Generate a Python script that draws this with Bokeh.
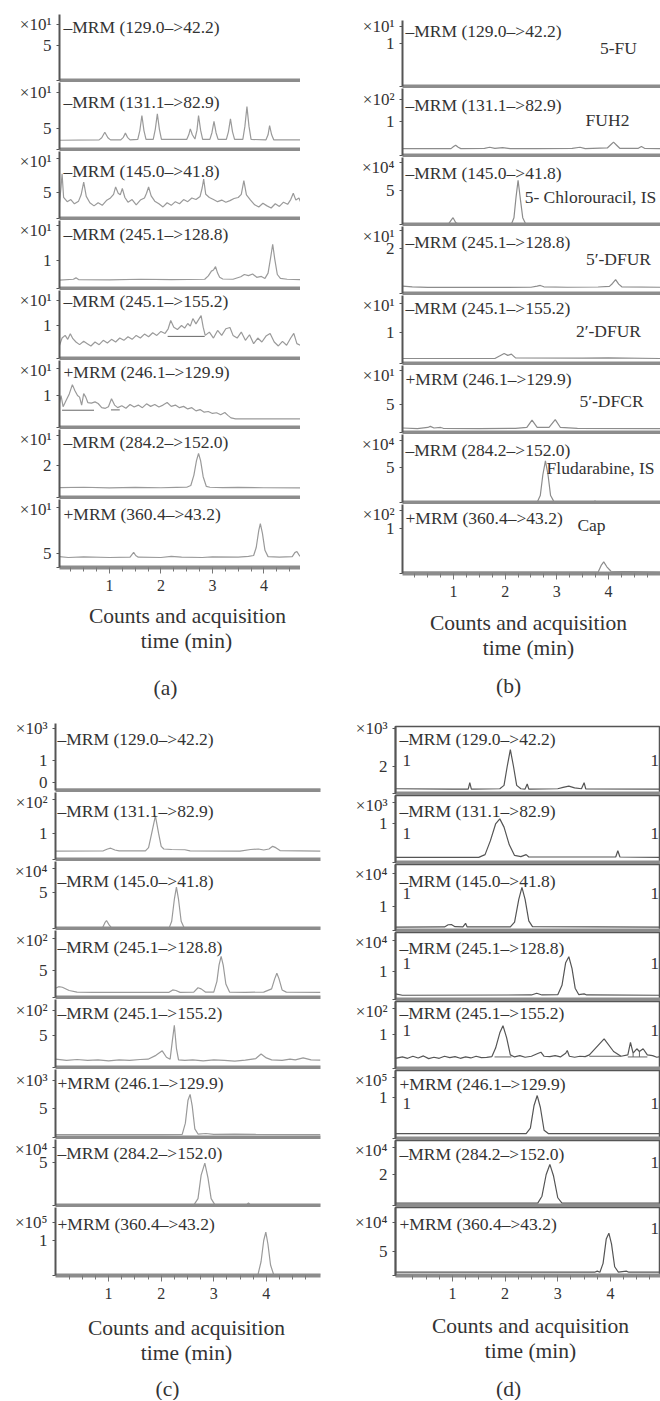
import math
from bokeh.plotting import figure
from bokeh.models import Range1d, FixedTicker, Label, AllLabels
from bokeh.layouts import column, row
from bokeh.embed import file_html
from bokeh.resources import INLINE
from bokeh.core.properties import value

NAN = float("nan")
FONT = "Liberation Serif"

# ---------------- texts / axis values ----------------
MRM_LABELS = ["–MRM (129.0–>42.2)", "–MRM (131.1–>82.9)", "–MRM (145.0–>41.8)",
              "–MRM (245.1–>128.8)", "–MRM (245.1–>155.2)", "+MRM (246.1–>129.9)",
              "–MRM (284.2–>152.0)", "+MRM (360.4–>43.2)"]
COMPOUNDS_B = ["5-FU", "FUH2", "5- Chlorouracil, IS", "5′-DFUR", "2′-DFUR",
               "5′-DFCR", "Fludarabine, IS", "Cap"]
CAPTION = ["Counts and acquisition", "time (min)"]
X_TICKS = [1, 2, 3, 4]
X_MINOR = [0.25, 0.5, 0.75, 1.25, 1.5, 1.75, 2.25, 2.5, 2.75, 3.25, 3.5, 3.75, 4.25, 4.5, 4.75]
SUP = {1: "¹", 2: "²", 3: "³", 4: "⁴", 5: "⁵"}

Y_TICK_A = [5, 5, 5, 1, 1, 1, 2, 5]
EXP_A = [1, 1, 1, 1, 1, 1, 1, 1]
Y_TICK_B = [1, 1, 5, 2, 1, 5, 5, 1]
EXP_B = [1, 2, 4, 1, 1, 1, 4, 2]
Y_TICK_C = [1, 1, 5, 5, 5, 5, 5, 1]
EXP_C = [3, 2, 4, 2, 2, 3, 4, 5]
Y_TICK_D = [2, 1, 1, 1, 1, 1, 2, 5]
EXP_D = [3, 3, 4, 4, 2, 5, 4, 4]

# ---------------- chromatogram traces (time min, counts in axis units) ----------------
A1 = [(0.03, 0.0), (4.71, 0.0)]
A2 = [(0.03, 2.2), (0.80, 2.3), (0.85, 2.8), (0.91, 4.1), (0.97, 2.8), (1.02, 2.3), (1.22, 2.3), (1.27, 2.9),
      (1.31, 3.9), (1.35, 2.9), (1.40, 2.3), (1.55, 2.4), (1.59, 4.5), (1.63, 8.1), (1.67, 4.5), (1.71, 2.4),
      (1.85, 2.4), (1.89, 4.8), (1.93, 8.5), (1.97, 4.8), (2.01, 2.4), (2.50, 2.4), (2.54, 3.5), (2.57, 4.9),
      (2.61, 3.5), (2.66, 2.5), (2.70, 4.6), (2.73, 8.1), (2.77, 4.6), (2.81, 2.4), (2.95, 2.4), (2.99, 4.0),
      (3.03, 6.7), (3.07, 4.0), (3.11, 2.4), (3.27, 2.4), (3.31, 4.2), (3.35, 7.3), (3.39, 4.2), (3.43, 2.4),
      (3.59, 2.4), (3.63, 5.5), (3.67, 10.2), (3.71, 5.5), (3.75, 2.4), (4.04, 2.3), (4.08, 3.5), (4.11, 5.7),
      (4.15, 3.5), (4.19, 2.3), (4.71, 2.3)]
A3 = [(0.03, 3.0), (0.06, 6.0), (0.08, 8.5), (0.11, 4.0), (0.18, 3.2), (0.25, 3.6), (0.32, 2.8), (0.40, 3.3),
      (0.45, 4.5), (0.50, 6.9), (0.55, 4.2), (0.62, 3.0), (0.70, 2.4), (0.78, 3.0), (0.86, 2.5), (0.94, 3.4),
      (1.02, 3.9), (1.08, 4.6), (1.12, 6.0), (1.17, 4.8), (1.21, 4.5), (1.25, 5.7), (1.30, 4.0), (1.36, 3.1),
      (1.44, 3.6), (1.52, 2.6), (1.60, 3.5), (1.68, 3.9), (1.72, 4.8), (1.76, 6.0), (1.81, 4.3), (1.88, 3.3),
      (1.96, 2.8), (2.04, 2.2), (2.12, 3.0), (2.20, 2.5), (2.28, 3.2), (2.36, 2.8), (2.44, 3.6), (2.52, 3.2),
      (2.60, 3.9), (2.68, 3.6), (2.76, 4.2), (2.80, 5.8), (2.83, 7.5), (2.87, 4.6), (2.94, 4.0), (3.02, 3.6),
      (3.10, 3.2), (3.18, 3.5), (3.26, 3.1), (3.34, 3.4), (3.42, 3.8), (3.50, 4.0), (3.56, 4.6), (3.61, 7.2),
      (3.66, 4.5), (3.74, 3.5), (3.82, 2.6), (3.90, 2.2), (3.98, 2.9), (4.06, 2.4), (4.14, 2.0), (4.22, 2.8),
      (4.30, 2.3), (4.38, 3.1), (4.46, 2.7), (4.52, 3.6), (4.57, 4.8), (4.62, 3.5), (4.68, 3.9), (4.71, 3.2)]
A4 = [(0.03, 0.30), (0.30, 0.33), (0.35, 0.38), (0.40, 0.32), (1.00, 0.31), (1.60, 0.33), (2.20, 0.32),
      (2.85, 0.33), (2.92, 0.45), (2.98, 0.62), (3.02, 0.66), (3.06, 0.78), (3.10, 0.55), (3.14, 0.40),
      (3.20, 0.34), (3.40, 0.33), (3.55, 0.42), (3.62, 0.50), (3.70, 0.46), (3.78, 0.52), (3.86, 0.40),
      (3.95, 0.43), (4.02, 0.36), (4.08, 0.55), (4.13, 1.10), (4.17, 1.58), (4.21, 1.05), (4.26, 0.50),
      (4.32, 0.36), (4.45, 0.33), (4.71, 0.32)]
A5 = [(0.03, 0.40), (0.08, 0.62), (0.14, 0.70), (0.19, 0.58), (0.24, 0.75), (0.29, 0.60), (0.35, 0.50),
      (0.42, 0.42), (0.50, 0.52), (0.57, 0.45), (0.64, 0.38), (0.72, 0.50), (0.80, 0.42), (0.88, 0.55),
      (0.96, 0.47), (1.04, 0.58), (1.12, 0.50), (1.20, 0.62), (1.28, 0.55), (1.36, 0.66), (1.44, 0.58),
      (1.52, 0.70), (1.60, 0.62), (1.68, 0.74), (1.76, 0.66), (1.84, 0.78), (1.92, 0.70), (2.00, 0.82),
      (2.08, 0.76), (2.14, 0.90), (2.19, 1.15), (2.25, 0.95), (2.32, 0.88), (2.40, 1.00), (2.46, 0.92),
      (2.52, 1.06), (2.57, 0.98), (2.62, 1.21), (2.68, 1.05), (2.74, 1.20), (2.78, 1.30), (2.82, 0.95),
      (2.86, 0.70), (2.94, 0.80), (3.02, 0.62), (3.10, 0.85), (3.18, 0.70), (3.26, 0.90), (3.34, 0.94),
      (3.40, 0.70), (3.48, 0.62), (3.56, 0.80), (3.64, 0.55), (3.72, 0.72), (3.80, 0.45), (3.88, 0.62),
      (3.96, 0.50), (4.04, 0.68), (4.12, 0.76), (4.20, 0.50), (4.28, 0.38), (4.36, 0.52), (4.44, 0.40),
      (4.52, 0.62), (4.58, 0.76), (4.64, 0.45), (4.71, 0.40)]
A5_INT = [(2.13, 0.67), (2.85, 0.67)]
A6 = [(0.03, 0.75), (0.06, 1.00), (0.10, 0.65), (0.16, 0.85), (0.22, 1.05), (0.28, 1.34), (0.33, 1.15),
      (0.38, 1.00), (0.42, 0.95), (0.46, 0.70), (0.50, 1.06), (0.54, 0.95), (0.58, 0.78), (0.65, 0.76),
      (0.72, 0.80), (0.78, 0.75), (0.85, 0.62), (0.92, 0.60), (0.98, 0.65), (1.04, 0.90), (1.10, 0.70),
      (1.16, 0.62), (1.24, 0.68), (1.32, 0.60), (1.40, 0.72), (1.48, 0.64), (1.56, 0.70), (1.64, 0.62),
      (1.72, 0.74), (1.80, 0.66), (1.88, 0.72), (1.96, 0.64), (2.04, 0.70), (2.12, 0.78), (2.20, 0.66),
      (2.28, 0.70), (2.36, 0.62), (2.44, 0.66), (2.52, 0.58), (2.60, 0.62), (2.68, 0.52), (2.76, 0.56),
      (2.84, 0.48), (2.92, 0.50), (3.00, 0.44), (3.08, 0.46), (3.16, 0.40), (3.24, 0.47), (3.30, 0.38),
      (3.36, 0.30), (3.45, 0.27), (4.71, 0.27)]
A6_INT = [(0.08, 0.54), (0.70, 0.54), (NAN, NAN), (1.03, 0.55), (1.20, 0.55)]
A7 = [(0.03, 0.62), (0.50, 0.64), (1.00, 0.60), (1.50, 0.63), (2.00, 0.61), (2.30, 0.63), (2.50, 0.64),
      (2.58, 0.75), (2.64, 1.40), (2.69, 2.30), (2.73, 2.75), (2.77, 2.30), (2.82, 1.30), (2.88, 0.70),
      (2.95, 0.64), (3.20, 0.62), (3.50, 0.63), (4.00, 0.61), (4.71, 0.60)]
A8 = [(0.03, 3.8), (0.20, 3.5), (0.50, 3.7), (1.00, 3.5), (1.40, 3.6), (1.44, 4.6), (1.47, 5.3), (1.51, 4.2),
      (1.56, 3.6), (2.00, 3.5), (2.20, 3.9), (2.40, 3.6), (2.80, 3.5), (3.00, 3.7), (3.50, 3.6), (3.70, 3.9),
      (3.80, 4.2), (3.85, 7.0), (3.90, 13.0), (3.93, 15.3), (3.97, 12.0), (4.02, 6.0), (4.08, 3.8),
      (4.30, 3.6), (4.55, 3.8), (4.60, 5.2), (4.64, 5.6), (4.68, 4.4), (4.71, 3.8)]

B1 = [(0.01, 0.0), (5.01, 0.0)]
B2 = [(0.01, 0.20), (0.95, 0.20), (1.00, 0.26), (1.04, 0.30), (1.09, 0.24), (1.14, 0.20), (1.60, 0.21),
      (1.70, 0.24), (1.80, 0.21), (1.95, 0.23), (2.10, 0.20), (2.60, 0.20), (3.30, 0.21), (3.45, 0.24),
      (3.55, 0.20), (3.98, 0.22), (4.05, 0.32), (4.10, 0.39), (4.16, 0.30), (4.22, 0.21), (4.58, 0.21),
      (4.64, 0.26), (4.70, 0.21), (5.01, 0.20)]
B3 = [(0.01, 0.05), (0.90, 0.05), (0.95, 0.6), (0.99, 1.0), (1.04, 0.3), (1.10, 0.05), (2.12, 0.05),
      (2.17, 1.0), (2.21, 4.0), (2.25, 6.5), (2.29, 4.0), (2.34, 1.0), (2.40, 0.05), (5.01, 0.05)]
B4 = [(0.01, 0.33), (0.20, 0.30), (0.50, 0.27), (1.50, 0.27), (2.50, 0.28), (2.62, 0.33), (2.68, 0.36),
      (2.75, 0.30), (3.20, 0.28), (3.80, 0.29), (4.02, 0.32), (4.08, 0.45), (4.14, 0.62), (4.20, 0.42),
      (4.26, 0.30), (5.01, 0.28)]
B5 = [(0.01, 0.16), (1.80, 0.16), (1.90, 0.25), (1.98, 0.32), (2.05, 0.26), (2.12, 0.30), (2.20, 0.18),
      (3.50, 0.17), (4.00, 0.18), (5.01, 0.16)]
B6 = [(0.01, 0.8), (0.30, 0.7), (0.50, 0.9), (0.55, 1.1), (0.62, 0.8), (0.75, 0.9), (0.80, 0.75), (1.50, 0.7),
      (2.20, 0.75), (2.42, 0.9), (2.52, 2.2), (2.62, 0.9), (2.85, 0.9), (2.97, 2.3), (3.07, 0.9), (3.40, 0.75),
      (5.01, 0.7)]
B7 = [(0.01, 0.05), (2.62, 0.05), (2.68, 1.0), (2.73, 4.0), (2.78, 6.0), (2.83, 4.0), (2.88, 1.0),
      (2.95, 0.05), (3.70, 0.05), (3.74, 0.2), (3.78, 0.05), (5.01, 0.05)]
B8 = [(0.01, 0.03), (3.80, 0.03), (3.86, 0.18), (3.91, 0.26), (3.97, 0.15), (4.05, 0.05), (5.01, 0.03)]

C1 = [(-0.01, -0.3), (5.03, -0.3)]
C2 = [(-0.01, 0.32), (0.90, 0.33), (0.98, 0.40), (1.04, 0.43), (1.12, 0.36), (1.20, 0.33), (1.70, 0.33),
      (1.76, 0.45), (1.82, 1.00), (1.89, 1.66), (1.95, 1.00), (2.00, 0.50), (2.05, 0.40), (2.20, 0.38),
      (2.45, 0.37), (2.55, 0.33), (3.50, 0.32), (3.70, 0.38), (3.85, 0.40), (3.95, 0.36), (4.05, 0.40),
      (4.12, 0.50), (4.18, 0.45), (4.26, 0.34), (5.03, 0.32)]
C3 = [(-0.01, 0.05), (0.88, 0.05), (0.93, 0.8), (0.96, 1.1), (1.01, 0.5), (1.06, 0.05), (2.15, 0.05),
      (2.20, 1.0), (2.25, 4.0), (2.29, 5.7), (2.33, 4.0), (2.38, 1.0), (2.44, 0.05), (5.03, 0.05)]
C4 = [(-0.01, 1.7), (0.05, 2.0), (0.12, 1.9), (0.25, 1.3), (0.40, 1.0), (0.70, 0.94), (1.50, 0.94),
      (2.15, 0.95), (2.22, 1.4), (2.28, 1.3), (2.36, 0.95), (2.62, 1.0), (2.70, 1.8), (2.76, 1.6), (2.84, 1.0),
      (3.00, 1.0), (3.06, 3.0), (3.10, 6.0), (3.14, 7.6), (3.18, 6.0), (3.23, 2.5), (3.30, 1.0), (3.60, 0.95),
      (3.95, 1.0), (4.10, 1.6), (4.16, 3.5), (4.20, 4.5), (4.24, 3.5), (4.30, 1.4), (4.38, 1.0), (5.03, 0.95)]
C5 = [(-0.01, 1.3), (0.20, 1.1), (0.40, 1.25), (0.60, 1.1), (0.80, 1.2), (1.00, 1.05), (1.20, 1.2),
      (1.40, 1.1), (1.60, 1.25), (1.75, 1.3), (1.90, 1.9), (2.02, 2.6), (2.10, 1.6), (2.17, 1.3), (2.21, 4.0),
      (2.25, 6.6), (2.29, 3.0), (2.33, 1.2), (2.45, 1.1), (2.60, 1.2), (2.80, 1.05), (3.00, 1.2), (3.20, 1.1),
      (3.40, 1.0), (3.60, 1.15), (3.80, 1.4), (3.90, 2.1), (4.00, 1.5), (4.10, 1.2), (4.30, 1.1), (4.45, 1.3),
      (4.55, 1.2), (4.70, 1.5), (4.85, 1.2), (5.03, 1.15)]
C6 = [(-0.01, 0.5), (2.00, 0.5), (2.40, 0.55), (2.46, 2.5), (2.51, 6.5), (2.55, 7.5), (2.59, 5.5),
      (2.64, 1.5), (2.70, 0.6), (2.85, 0.7), (3.00, 0.55), (3.40, 0.6), (3.80, 0.55), (5.03, 0.5)]
C7 = [(-0.01, 0.05), (2.62, 0.05), (2.70, 0.8), (2.76, 3.5), (2.83, 4.9), (2.89, 3.2), (2.95, 0.8),
      (3.02, 0.1), (3.62, 0.05), (3.66, 0.3), (3.70, 0.05), (5.03, 0.05)]
C8 = [(-0.01, 0.02), (3.84, 0.02), (3.90, 0.4), (3.95, 1.0), (3.99, 1.24), (4.03, 0.9), (4.08, 0.3),
      (4.14, 0.02), (5.03, 0.02)]

D1 = [(-0.08, 0.35), (1.00, 0.33), (1.30, 0.33), (1.33, 0.8), (1.36, 0.33), (1.90, 0.35), (1.98, 0.6),
      (2.04, 2.0), (2.10, 3.25), (2.16, 2.0), (2.22, 0.6), (2.30, 0.35), (2.38, 0.33), (2.42, 0.7),
      (2.45, 0.33), (3.00, 0.35), (3.10, 0.45), (3.21, 0.55), (3.32, 0.42), (3.45, 0.35), (3.50, 0.8),
      (3.53, 0.35), (4.95, 0.33)]
D2 = [(-0.08, 0.13), (1.50, 0.13), (1.62, 0.20), (1.72, 0.55), (1.82, 0.98), (1.90, 1.11), (1.98, 0.90),
      (2.08, 0.45), (2.18, 0.18), (2.30, 0.15), (2.40, 0.20), (2.45, 0.14), (4.10, 0.14), (4.14, 0.30),
      (4.18, 0.14), (4.95, 0.13)]
D3 = [(-0.08, 0.14), (0.85, 0.15), (0.92, 0.24), (0.98, 0.25), (1.05, 0.16), (1.20, 0.15), (1.25, 0.30),
      (1.28, 0.15), (2.10, 0.15), (2.18, 0.35), (2.26, 1.3), (2.32, 1.8), (2.38, 1.3), (2.45, 0.4),
      (2.52, 0.16), (4.95, 0.14)]
D4 = [(-0.08, 0.20), (0.05, 0.15), (2.50, 0.16), (2.60, 0.22), (2.70, 0.16), (3.00, 0.17), (3.08, 0.5),
      (3.15, 1.3), (3.21, 1.51), (3.27, 1.1), (3.33, 0.4), (3.40, 0.17), (3.50, 0.20), (3.55, 0.16),
      (4.95, 0.15)]
D5 = [(-0.08, 0.30), (0.05, 0.34), (0.15, 0.30), (0.25, 0.36), (0.35, 0.31), (0.45, 0.37), (0.55, 0.29),
      (0.65, 0.33), (0.75, 0.30), (0.85, 0.36), (0.95, 0.32), (1.05, 0.35), (1.15, 0.30), (1.25, 0.34),
      (1.35, 0.31), (1.45, 0.36), (1.55, 0.32), (1.65, 0.33), (1.75, 0.35), (1.82, 0.60), (1.90, 1.05),
      (1.96, 1.26), (2.03, 0.90), (2.10, 0.40), (2.18, 0.34), (2.28, 0.38), (2.38, 0.33), (2.50, 0.36),
      (2.62, 0.44), (2.68, 0.48), (2.74, 0.36), (2.85, 0.35), (2.95, 0.38), (3.05, 0.34), (3.15, 0.45),
      (3.18, 0.53), (3.22, 0.36), (3.32, 0.33), (3.42, 0.36), (3.52, 0.35), (3.60, 0.40), (3.88, 0.87),
      (4.06, 0.50), (4.20, 0.36), (4.33, 0.40), (4.38, 0.77), (4.43, 0.45), (4.50, 0.58), (4.55, 0.50),
      (4.62, 0.58), (4.70, 0.40), (4.80, 0.38), (4.88, 0.33), (4.95, 0.35)]
D5_INT = [(1.80, 0.34), (2.12, 0.34), (NAN, NAN), (3.60, 0.36), (4.20, 0.36), (NAN, NAN),
          (4.33, 0.34), (4.70, 0.34), (NAN, NAN), (4.43, 0.34), (4.43, 0.45), (NAN, NAN),
          (4.55, 0.34), (4.55, 0.50)]
D6 = [(-0.08, 0.12), (2.40, 0.12), (2.48, 0.25), (2.55, 0.8), (2.61, 1.04), (2.67, 0.75), (2.74, 0.2),
      (2.82, 0.12), (4.95, 0.12)]
D7 = [(-0.08, 0.15), (2.62, 0.15), (2.70, 0.6), (2.78, 2.0), (2.85, 2.65), (2.92, 1.9), (3.00, 0.5),
      (3.08, 0.15), (4.95, 0.15)]
D8 = [(-0.08, 0.68), (3.70, 0.68), (3.75, 0.9), (3.80, 0.68), (3.86, 2.5), (3.92, 7.5), (3.97, 8.7),
      (4.02, 6.5), (4.08, 1.8), (4.15, 0.7), (4.30, 0.9), (4.35, 0.68), (4.95, 0.68)]

# ---------------- layout (page pixels; the page starts at 0,0) ----------------
LAYOUT = {
    "a": dict(fig_left=0, width=300, frame_left=59, frame_right=300, t0=0.03, t1=4.71,
              row_top=0, row_bottom=712, ft1=14,
              fb=[80, 149, 218, 288, 358, 427, 497, 567],
              tick_py=[45, 128, 191.7, 260, 325, 395, 465, 552.7],
              zero_py=[None] * 8,
              xlab_py=[24, 92, 158, 225, 300, 368, 435, 506.7],
              mrm_py=[26, 101, 170, 233, 300, 371, 441, 513], mrm_x=63,
              cap=[(187, 615), (186, 640)], tag=(165, 687),
              color="#9a9a9a", outline=False),
    "b": dict(fig_left=300, width=360, frame_left=402, frame_right=660, t0=0.01, t1=5.01,
              row_top=0, row_bottom=712, ft1=20,
              fb=[86, 155, 224, 293, 363, 432, 502, 573],
              tick_py=[43.3, 120.7, 190, 248.3, 331.7, 404, 467.3, 528.3],
              zero_py=[None] * 8,
              xlab_py=[26, 99.3, 161.7, 230, 302.7, 370, 440, 510],
              mrm_py=[30, 104, 172, 241, 307, 378, 449, 517], mrm_x=405,
              cap=[(528, 622), (528, 647)], tag=(508, 685),
              color="#8c8c8c", outline=False),
    "c": dict(fig_left=0, width=330, frame_left=55, frame_right=320, t0=-0.01, t1=5.03,
              row_top=712, row_bottom=1400, ft1=723,
              fb=[790, 859, 928, 997, 1067, 1137, 1205, 1275],
              tick_py=[760, 832.7, 891.7, 970, 1035, 1108.3, 1161.7, 1240],
              zero_py=[782, None, None, None, None, None, None, None],
              xlab_py=[728, 799, 868, 938, 1010, 1080, 1146.7, 1221.7],
              mrm_py=[738, 810, 880, 946, 1012, 1082, 1152, 1223], mrm_x=57,
              cap=[(186, 1327), (186, 1352)], tag=(167, 1388),
              color="#9a9a9a", outline=False),
    "d": dict(fig_left=330, width=330, frame_left=395, frame_right=660, t0=-0.08, t1=4.95,
              row_top=712, row_bottom=1400, ft1=726,
              fb=[793, 862, 930, 999, 1068, 1138, 1205, 1275],
              tick_py=[766, 822.7, 906, 970.7, 1034, 1096.7, 1174, 1250.7],
              zero_py=[None] * 8,
              xlab_py=[728.3, 801.7, 873.3, 940, 1008.3, 1076.7, 1146.7, 1221.7],
              mrm_py=[738, 810, 880, 947, 1012, 1083, 1153, 1223], mrm_x=399,
              cap=[(530, 1325), (530, 1350)], tag=(508, 1388),
              color="#555555", outline=True),
}
B_COMPOUND_POS = [(618, 47), (607, 119), (590, 196), (618, 258), (608, 330), (611, 400), (600, 467), (591, 524)]
D_LEFT_ONE_PY = [760, 833, 893, 963, 1030, 1103]
D_RIGHT_ONE_PY = [760, 833, 893, 963, 1030, 1103, 1162, 1228]

AXIS_COL = "#555555"
BAND_COL = "#8c8c8c"
TEXT_COL = "#333333"
AXIS_BOTTOM = 32


def build_panel(key, tick_vals, exps, traces, extras=None, decorate=None):
    L = LAYOUT[key]
    t0, t1 = L["t0"], L["t1"]
    fl, fr = L["frame_left"], L["frame_right"]

    def px2t(px):
        return t0 + (px - fl) * (t1 - t0) / (fr - fl)

    figs = []
    for k in range(8):
        fb = L["fb"][k]
        if k == 0:
            fig_top = L["row_top"]
            ft = L["ft1"]
        else:
            fig_top = L["fb"][k - 1] + 2
            ft = fig_top
        last = (k == 7)
        bb = AXIS_BOTTOM if last else 2
        height = int(fb - fig_top + bb)
        zero = L["zero_py"][k] if L["zero_py"][k] is not None else fb
        unit = (zero - L["tick_py"][k]) / tick_vals[k]
        y0 = -(fb - zero) / unit
        y1 = (zero - ft) / unit

        def py2y(py, zero=zero, unit=unit):
            return (zero - py) / unit

        p = figure(width=L["width"], height=height,
                   x_range=Range1d(t0, t1), y_range=Range1d(y0, y1),
                   toolbar_location=None, output_backend="svg",
                   min_border_left=fl - L["fig_left"],
                   min_border_right=L["fig_left"] + L["width"] - fr,
                   min_border_top=int(ft - fig_top), min_border_bottom=int(bb))
        p.grid.visible = False
        p.background_fill_color = "white"
        p.border_fill_color = "white"
        if L["outline"]:
            p.outline_line_color = "#555555"
            p.outline_line_width = 1.5
        else:
            p.outline_line_color = None

        # y axis
        xl = round(py2y(L["xlab_py"][k]), 5)
        tv = tick_vals[k]
        p.yaxis.ticker = FixedTicker(ticks=[0, tv, xl])
        p.yaxis.major_label_overrides = {0: ("0" if (key == "c" and k == 0) else ""),
                                         tv: str(tv), xl: "×10" + SUP[exps[k]]}
        p.yaxis.major_label_policy = AllLabels()
        p.yaxis.axis_line_color = AXIS_COL
        p.yaxis.axis_line_width = 2
        p.yaxis.major_tick_line_color = AXIS_COL
        p.yaxis.major_tick_out = 3
        p.yaxis.major_tick_in = 0
        p.yaxis.minor_tick_line_color = None
        p.yaxis.major_label_standoff = 5
        p.yaxis.major_label_text_font = FONT
        p.yaxis.major_label_text_font_size = "17px"
        p.yaxis.major_label_text_color = TEXT_COL

        # x axis (grey band)
        p.xaxis.axis_line_color = BAND_COL
        p.xaxis.axis_line_width = 4
        if last:
            p.xaxis.ticker = FixedTicker(ticks=X_TICKS, minor_ticks=X_MINOR)
            p.xaxis.major_tick_line_color = "#777777"
            p.xaxis.minor_tick_line_color = "#777777"
            p.xaxis.major_tick_out = 6
            p.xaxis.major_tick_in = 0
            p.xaxis.minor_tick_out = 4
            p.xaxis.minor_tick_in = 0
            p.xaxis.major_label_standoff = 6
            p.xaxis.major_label_text_font = FONT
            p.xaxis.major_label_text_font_size = "16px"
            p.xaxis.major_label_text_color = TEXT_COL
        else:
            p.xaxis.ticker = FixedTicker(ticks=[])
            p.xaxis.major_tick_line_color = None
            p.xaxis.minor_tick_line_color = None
            p.xaxis.major_tick_out = 0
            p.xaxis.major_tick_in = 0
            p.xaxis.minor_tick_out = 0
            p.xaxis.minor_tick_in = 0
            p.xaxis.major_label_standoff = 0
            p.xaxis.major_label_text_font_size = "0px"

        xs, ys = zip(*traces[k])
        p.line(list(xs), list(ys), line_color=L["color"], line_width=1.2)
        if extras and k in extras:
            ex, ey = zip(*extras[k])
            p.line(list(ex), list(ey), line_color="#666666", line_width=1.0)

        p.add_layout(Label(x=px2t(L["mrm_x"]), y=py2y(L["mrm_py"][k]), text=MRM_LABELS[k],
                           text_font=FONT, text_font_size="17.5px", text_color=TEXT_COL,
                           text_baseline="middle", text_align="left"))
        if decorate:
            decorate(p, k, px2t, py2y)
        figs.append(p)

    # caption block below the panel; its frame is aligned with the track frames,
    # so it shares their time range; y is page pixels (inverted range)
    cap_top = L["fb"][7] + AXIS_BOTTOM
    cap_h = L["row_bottom"] - cap_top
    c = figure(width=L["width"], height=cap_h,
               x_range=Range1d(t0, t1),
               y_range=Range1d(L["row_bottom"], cap_top),
               x_axis_location=None, y_axis_location=None,
               toolbar_location=None, output_backend="svg",
               min_border_left=fl - L["fig_left"],
               min_border_right=L["fig_left"] + L["width"] - fr,
               min_border_top=0, min_border_bottom=0)
    c.outline_line_color = None
    c.grid.visible = False
    for txt, (cx, cy) in zip(CAPTION + ["(" + key + ")"], L["cap"] + [L["tag"]]):
        c.add_layout(Label(x=px2t(cx), y=cy, text=txt, text_font=FONT, text_font_size="21.5px",
                           text_color=TEXT_COL, text_align="center", text_baseline="middle"))
    figs.append(c)
    return column(*figs, spacing=0)


def deco_b(p, k, px2t, py2y):
    x, y = B_COMPOUND_POS[k]
    p.add_layout(Label(x=px2t(x), y=py2y(y), text=COMPOUNDS_B[k], text_font=FONT,
                       text_font_size="17.5px", text_color=TEXT_COL,
                       text_align="center", text_baseline="middle"))


def deco_d(p, k, px2t, py2y):
    if k < len(D_LEFT_ONE_PY):
        p.add_layout(Label(x=px2t(402), y=py2y(D_LEFT_ONE_PY[k]), text="1", text_font=FONT,
                           text_font_size="17px", text_color=TEXT_COL,
                           text_align="left", text_baseline="middle"))
    p.add_layout(Label(x=px2t(650), y=py2y(D_RIGHT_ONE_PY[k]), text="1", text_font=FONT,
                       text_font_size="17px", text_color=TEXT_COL,
                       text_align="left", text_baseline="middle"))


col_a = build_panel("a", Y_TICK_A, EXP_A, [A1, A2, A3, A4, A5, A6, A7, A8],
                    extras={4: A5_INT, 5: A6_INT})
col_b = build_panel("b", Y_TICK_B, EXP_B, [B1, B2, B3, B4, B5, B6, B7, B8], decorate=deco_b)
col_c = build_panel("c", Y_TICK_C, EXP_C, [C1, C2, C3, C4, C5, C6, C7, C8])
col_d = build_panel("d", Y_TICK_D, EXP_D, [D1, D2, D3, D4, D5, D6, D7, D8],
                    extras={4: D5_INT}, decorate=deco_d)

root = column(row(col_a, col_b, spacing=0), row(col_c, col_d, spacing=0), spacing=0)
open("out.html", "w").write(file_html(root, INLINE))
